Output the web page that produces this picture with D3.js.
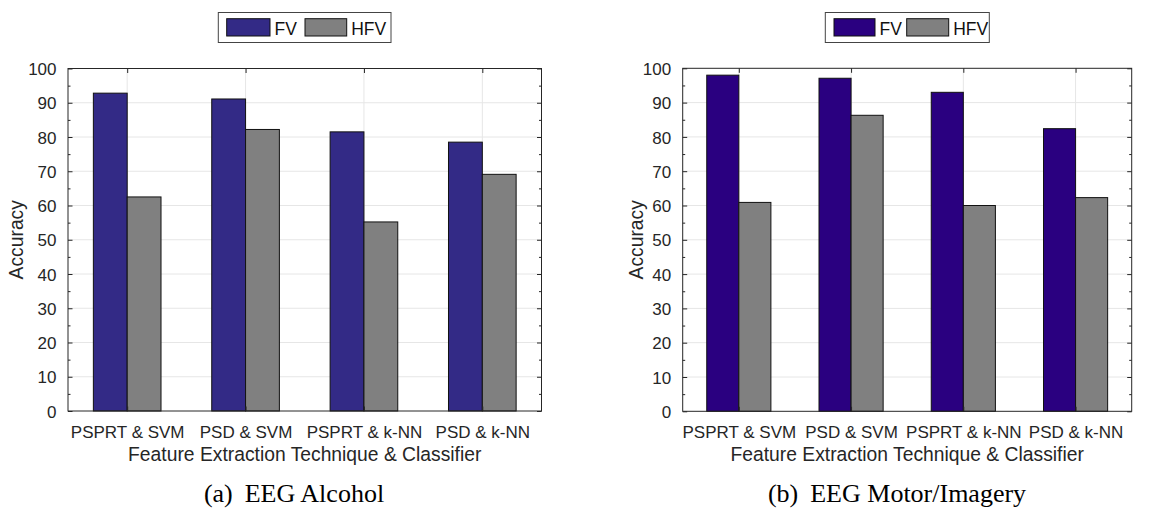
<!DOCTYPE html>
<html>
<head>
<meta charset="utf-8">
<script src="https://cdn.jsdelivr.net/npm/d3@7"></script>
<style>
  html, body { margin: 0; padding: 0; background: #fff; }
  svg { display: block; }
</style>
</head>
<body>
<svg id="chart" width="1151" height="508"></svg>
<script>
// Classification accuracy per feature extraction technique & classifier
const categories = ["PSPRT & SVM", "PSD & SVM", "PSPRT & k-NN", "PSD & k-NN"];
const seriesNames = ["FV", "HFV"];
const alcoholFV  = [92.8, 91.1, 81.5, 78.5];
const alcoholHFV = [62.5, 82.2, 55.2, 69.1];
const motorFV    = [98.0, 97.1, 93.0, 82.4];
const motorHFV   = [60.9, 86.3, 60.0, 62.3];
const yTicks = [0, 10, 20, 30, 40, 50, 60, 70, 80, 90, 100];
const yMinorTicks = [5, 15, 25, 35, 45, 55, 65, 75, 85, 95];
const captions = [["(a)", "EEG Alcohol"], ["(b)", "EEG Motor/Imagery"]];

const panels = [
  { x0: 68, x1: 541.5, y0: 68.5, y1: 411, fv: alcoholFV, hfv: alcoholHFV,
    colors: ["#332a86", "#808080"], caption: captions[0], capX: 294, ylabX: 23,
    legend: { x0: 218.3, x1: 391, swatches: [[226.7, 270], [305, 346.7]] } },
  { x0: 682.7, x1: 1131.7, y0: 68.3, y1: 411.3, fv: motorFV, hfv: motorHFV,
    colors: ["#2a0080", "#808080"], caption: captions[1], capX: 897, ylabX: 643,
    legend: { x0: 825.3, x1: 989.3, swatches: [[834, 875], [906.7, 948.7]] } }
];

const svg = d3.select("#chart");
const sans = "'Liberation Sans', Arial, Helvetica, sans-serif";
const serif = "'Liberation Serif', 'Times New Roman', Times, serif";
const axisColor = "#262626";
const gridColor = "#e6e6e6";

panels.forEach(p => {
  const g = svg.append("g");
  const x = d3.scaleBand().domain(categories).range([p.x0, p.x1]).padding(0);
  const y = d3.scaleLinear().domain([0, 100]).range([p.y1, p.y0]);
  const step = x.step();
  const groupW = step * 2 / 3.5;
  const xs = d3.scaleBand().domain(seriesNames).range([-groupW / 2, groupW / 2]).padding(0);
  const cx = c => x(c) + step / 2;

  // grid
  g.append("g").selectAll("line").data(yTicks.slice(1, -1)).join("line")
    .attr("x1", p.x0).attr("x2", p.x1)
    .attr("y1", d => y(d)).attr("y2", d => y(d))
    .attr("stroke", gridColor).attr("stroke-width", 1);
  g.append("g").selectAll("line").data(categories).join("line")
    .attr("x1", d => cx(d)).attr("x2", d => cx(d))
    .attr("y1", p.y0).attr("y2", p.y1)
    .attr("stroke", gridColor).attr("stroke-width", 1);

  // bars
  const rows = categories.map((c, i) => ({ c, values: [p.fv[i], p.hfv[i]] }));
  const bars = g.append("g");
  rows.forEach(r => {
    seriesNames.forEach((s, si) => {
      bars.append("rect")
        .attr("x", cx(r.c) + xs(s))
        .attr("y", y(r.values[si]))
        .attr("width", xs.bandwidth())
        .attr("height", y(0) - y(r.values[si]))
        .attr("fill", p.colors[si])
        .attr("stroke", "#111")
        .attr("stroke-width", 1);
    });
  });

  // axes (box with ticks on all sides, pointing inward)
  const tickLen = 4.5, minorLen = 2.5;
  const yl = g.append("g").attr("transform", `translate(${p.x0},0)`)
    .call(d3.axisLeft(y).tickValues(yTicks).tickSizeInner(-tickLen).tickSizeOuter(0).tickPadding(7 + tickLen));
  const yr = g.append("g").attr("transform", `translate(${p.x1},0)`)
    .call(d3.axisRight(y).tickValues(yTicks).tickSizeInner(-tickLen).tickSizeOuter(0).tickFormat(""));
  const ylm = g.append("g").attr("transform", `translate(${p.x0},0)`)
    .call(d3.axisLeft(y).tickValues(yMinorTicks).tickSizeInner(-minorLen).tickSizeOuter(0).tickFormat(""));
  const yrm = g.append("g").attr("transform", `translate(${p.x1},0)`)
    .call(d3.axisRight(y).tickValues(yMinorTicks).tickSizeInner(-minorLen).tickSizeOuter(0).tickFormat(""));
  const xc = d3.scalePoint().domain(categories).range([p.x0 + step / 2, p.x1 - step / 2]);
  const xb = g.append("g").attr("transform", `translate(0,${p.y1})`)
    .call(d3.axisBottom(xc).tickSizeInner(-tickLen).tickSizeOuter(0).tickPadding(10 + tickLen));
  const xt = g.append("g").attr("transform", `translate(0,${p.y0})`)
    .call(d3.axisTop(xc).tickSizeInner(-tickLen).tickSizeOuter(0).tickFormat(""));

  [yl, yr, ylm, yrm, xb, xt].forEach(a => {
    a.select(".domain").remove();
    a.selectAll("line").attr("stroke", axisColor);
    a.selectAll("text").attr("font-family", sans).attr("font-size", 17).attr("fill", axisColor);
  });
  yl.selectAll("text").attr("dy", "0.36em");
  xb.selectAll("text").attr("dy", "0.72em");

  // frame
  g.append("rect")
    .attr("x", p.x0).attr("y", p.y0)
    .attr("width", p.x1 - p.x0).attr("height", p.y1 - p.y0)
    .attr("fill", "none").attr("stroke", axisColor).attr("stroke-width", 1);

  // axis titles
  g.append("text")
    .attr("x", (p.x0 + p.x1) / 2).attr("y", 461)
    .attr("text-anchor", "middle")
    .attr("font-family", sans).attr("font-size", 19.3).attr("fill", axisColor)
    .text("Feature Extraction Technique & Classifier");
  g.append("text")
    .attr("transform", `translate(${p.ylabX},${(p.y0 + p.y1) / 2}) rotate(-90)`)
    .attr("text-anchor", "middle")
    .attr("font-family", sans).attr("font-size", 19.3).attr("fill", axisColor)
    .text("Accuracy");

  // legend
  const L = p.legend;
  const lg = g.append("g");
  lg.append("rect").attr("x", L.x0).attr("y", 12.5).attr("width", L.x1 - L.x0).attr("height", 30)
    .attr("fill", "#fff").attr("stroke", "#444").attr("stroke-width", 1);
  seriesNames.forEach((s, si) => {
    const [sx0, sx1] = L.swatches[si];
    lg.append("rect").attr("x", sx0).attr("y", 18.7).attr("width", sx1 - sx0).attr("height", 17.3)
      .attr("fill", p.colors[si]).attr("stroke", "#111").attr("stroke-width", 1);
    lg.append("text").attr("x", sx1 + 4.5).attr("y", 35)
      .attr("font-family", sans).attr("font-size", 17.5).attr("fill", "#111").text(s);
  });

  // sub-figure caption
  const cap = g.append("text")
    .attr("x", p.capX).attr("y", 502)
    .attr("text-anchor", "middle")
    .attr("font-family", serif).attr("font-size", 26).attr("fill", "#000");
  cap.append("tspan").text(p.caption[0]);
  cap.append("tspan").attr("dx", 12).text(p.caption[1]);
});
</script>
</body>
</html>
